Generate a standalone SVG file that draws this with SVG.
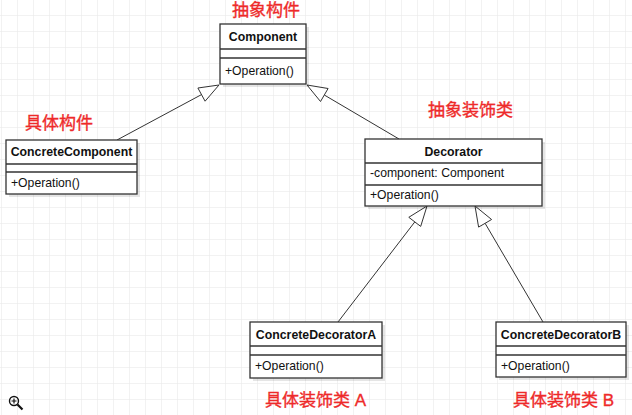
<svg xmlns="http://www.w3.org/2000/svg" width="632" height="415" viewBox="0 0 632 415">
<defs>
<pattern id="grid" x="1" y="15" width="16" height="16" patternUnits="userSpaceOnUse">
<path d="M0 0H16M0 0V16" fill="none" stroke="#e6e6e6" stroke-width="1"/>
</pattern>
<style>
.box{fill:#fff;stroke:#333;stroke-width:1.3}
.shadow{fill:#000;fill-opacity:0.1}
.div{stroke:#333;stroke-width:1.3}
.title{font-family:"Liberation Sans",Arial,sans-serif;font-size:12.3px;font-weight:bold;fill:#111;text-anchor:middle}
.member{font-family:"Liberation Sans",Arial,sans-serif;font-size:12.2px;fill:#111}
.label{font-family:"Liberation Sans","Noto Sans CJK SC",sans-serif;font-size:17px;fill:#ee2a2a;stroke:#ee2a2a;stroke-width:0.35}
.edge{stroke:#333;stroke-width:1;fill:none}
.head{fill:#fff;stroke:#333;stroke-width:1}
</style>
</defs>
<rect width="632" height="415" fill="#fff"/>
<rect width="632" height="415" fill="url(#grid)"/>

<g id="connectors">
<line class="edge" x1="117" y1="140" x2="201.5" y2="94.6"/>
<polygon class="head" points="219,85 205.1,101.2 197.9,88"/>
<line class="edge" x1="399" y1="139" x2="324.3" y2="95"/>
<polygon class="head" points="307,85 328.1,88.5 320.5,101.5"/>
<line class="edge" x1="338" y1="322" x2="414.8" y2="221.9"/>
<polygon class="head" points="427,206 420.7,226.4 408.8,217.3"/>
<line class="edge" x1="543" y1="322" x2="485.1" y2="223.3"/>
<polygon class="head" points="475,206 491.6,219.5 478.6,227.1"/>
</g>

<g id="component">
<rect class="shadow" x="223" y="27" width="86" height="60"/>
<rect class="box" x="220" y="24" width="86" height="60"/>
<line class="div" x1="220" y1="49" x2="306" y2="49"/>
<line class="div" x1="220" y1="58" x2="306" y2="58"/>
<text class="title" x="263" y="41">Component</text>
<text class="member" x="225" y="75">+Operation()</text>
</g>

<g id="concretecomponent">
<rect class="shadow" x="9" y="143" width="131" height="54"/>
<rect class="box" x="6" y="140" width="131" height="54"/>
<line class="div" x1="6" y1="164" x2="137" y2="164"/>
<line class="div" x1="6" y1="172" x2="137" y2="172"/>
<text class="title" x="71.5" y="156">ConcreteComponent</text>
<text class="member" x="11" y="187">+Operation()</text>
</g>

<g id="decorator">
<rect class="shadow" x="368" y="142" width="177" height="67"/>
<rect class="box" x="365" y="139" width="177" height="67"/>
<line class="div" x1="365" y1="163" x2="542" y2="163"/>
<line class="div" x1="365" y1="185" x2="542" y2="185"/>
<text class="title" x="453.5" y="156">Decorator</text>
<text class="member" x="370" y="177">-component: Component</text>
<text class="member" x="370" y="199">+Operation()</text>
</g>

<g id="concretedecoratora">
<rect class="shadow" x="253" y="325" width="132" height="56"/>
<rect class="box" x="250" y="322" width="132" height="56"/>
<line class="div" x1="250" y1="346" x2="382" y2="346"/>
<line class="div" x1="250" y1="355" x2="382" y2="355"/>
<text class="title" x="316" y="339">ConcreteDecoratorA</text>
<text class="member" x="255" y="370">+Operation()</text>
</g>

<g id="concretedecoratorb">
<rect class="shadow" x="499" y="325" width="130" height="55"/>
<rect class="box" x="496" y="322" width="130" height="55"/>
<line class="div" x1="496" y1="346" x2="626" y2="346"/>
<line class="div" x1="496" y1="355" x2="626" y2="355"/>
<text class="title" x="561" y="339">ConcreteDecoratorB</text>
<text class="member" x="501" y="370">+Operation()</text>
</g>

<g id="labels">
<text class="label" x="232" y="16">抽象构件</text>
<text class="label" x="25" y="129">具体构件</text>
<text class="label" x="428" y="115.5">抽象装饰类</text>
<text class="label" x="265" y="406">具体装饰类 A</text>
<text class="label" x="513" y="406">具体装饰类 B</text>
</g>

<g id="zoom-icon" fill="none" stroke="#111">
<circle cx="14" cy="401" r="4.5" stroke-width="1.4"/>
<path d="M11.5 401H16.5M14 398.5V403.5" stroke-width="1.2"/>
<path d="M17.5 404.5L22.5 409.5" stroke-width="2.2"/>
</g>
</svg>
